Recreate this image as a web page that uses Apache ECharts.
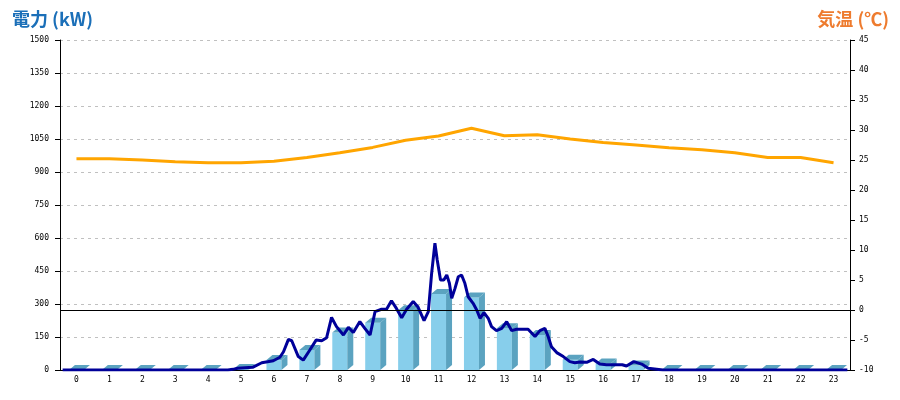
<!DOCTYPE html>
<html>
<head>
<meta charset="utf-8">
<script src="https://cdn.jsdelivr.net/npm/echarts@6/dist/echarts.min.js"></script>
<style>
html,body{margin:0;padding:0;background:#fff;}
#chart{width:900px;height:400px;}
</style>
</head>
<body>
<div id="chart"></div>
<script>
// Hour categories
const hours = ['0','1','2','3','4','5','6','7','8','9','10','11','12','13','14','15','16','17','18','19','20','21','22','23'];
// Hourly power (kW), bars
const barValues = [0,0,0,0,0,5,45,91,170,215,272,345,329,190,159,47,30,20,0,0,0,0,0,0];
// Hourly temperature (°C)
const tempValues = [25.2,25.2,25.0,24.7,24.55,24.55,24.8,25.4,26.2,27.1,28.3,29.0,30.3,29.05,29.2,28.5,27.9,27.5,27.05,26.7,26.2,25.4,25.4,24.55];
// Fine-grained power trace: time (hours) and value (kW)
const powerTime = [0.08,5.10,5.25,5.40,5.85,6.13,6.48,6.68,6.79,6.94,7.04,7.24,7.39,7.59,7.78,7.95,8.10,8.25,8.40,8.61,8.76,8.91,9.11,9.26,9.42,9.57,9.77,9.92,10.07,10.22,10.38,10.53,10.73,10.88,11.06,11.19,11.29,11.39,11.46,11.56,11.66,11.75,11.83,11.90,12.00,12.10,12.20,12.30,12.40,12.55,12.66,12.76,12.88,13.01,13.11,13.26,13.42,13.57,13.72,13.87,14.07,14.22,14.43,14.58,14.73,14.83,14.93,15.09,15.29,15.49,15.64,15.80,16.00,16.20,16.40,16.60,17.08,17.21,17.43,17.67,17.87,18.32,23.92];
const powerValue = [0,0,3,8,12,33,42,58,83,139,133,61,45,91,136,133,147,239,197,159,194,170,220,189,159,265,276,276,315,280,238,276,311,285,224,265,439,576,500,409,409,432,394,326,371,424,432,394,333,303,273,235,261,235,197,179,189,220,179,185,185,185,152,179,189,152,106,79,61,38,33,36,35,48,27,24,24,18,38,27,8,0,0];

const powerData = powerTime.map((t, i) => [t, powerValue[i]]);
const barData = barValues.map((v, i) => [i, v]);

const FRONT = '#87CEEB';
const SIDE = '#5BA3C0';
const labelFont = {fontFamily: 'DejaVu Sans Mono', fontSize: 8, color: '#000'};
const plain = function (v) { return String(v); };

const chart = echarts.init(document.getElementById('chart'));
chart.setOption({
  animation: false,
  backgroundColor: '#fff',
  title: [
    {text: '電力 (kW)', left: 7, top: 5,
     textStyle: {fontFamily: 'Noto Sans CJK JP', fontWeight: 'bold', fontSize: 18, color: '#1B6FB8'}},
    {text: '気温 (℃)', right: 6, top: 5,
     textStyle: {fontFamily: 'Noto Sans CJK JP', fontWeight: 'bold', fontSize: 18, color: '#EE7B2E'}}
  ],
  grid: {left: 60, right: 50, top: 40, bottom: 30},
  xAxis: [
    {type: 'category', data: hours, boundaryGap: true,
     axisLine: {lineStyle: {color: '#000', width: 1}},
     axisTick: {show: false},
     axisLabel: Object.assign({margin: 6}, labelFont),
     splitLine: {show: false}},
    {type: 'value', min: 0, max: 24, show: false}
  ],
  yAxis: [
    {type: 'value', min: 0, max: 1500, interval: 150, position: 'left',
     axisLine: {show: true, lineStyle: {color: '#000', width: 1}},
     axisTick: {show: true, length: 5, lineStyle: {color: '#000'}},
     axisLabel: Object.assign({margin: 11, formatter: plain}, labelFont),
     splitLine: {show: true, lineStyle: {color: '#c0c0c0', type: [3, 4]}}},
    {type: 'value', min: -10, max: 45, interval: 5, position: 'right',
     axisLine: {show: true, lineStyle: {color: '#000', width: 1}},
     axisTick: {show: true, length: 5, lineStyle: {color: '#000'}},
     axisLabel: Object.assign({margin: 9, formatter: plain}, labelFont),
     splitLine: {show: false}}
  ],
  series: [
    {
      type: 'custom', name: 'bars', xAxisIndex: 0, yAxisIndex: 0, z: 2,
      data: barData,
      renderItem: function (params, api) {
        const idx = api.value(0), v = api.value(1);
        const top = api.coord([idx, v]);
        const base = api.coord([idx, 0]);
        const w = 15, d = 6;
        const x0 = top[0] - w / 2;
        return {type: 'group', children: [
          {type: 'rect', shape: {x: x0, y: top[1], width: w, height: base[1] - top[1]}, style: {fill: FRONT}},
          {type: 'polygon', shape: {points: [[x0 + w, top[1]], [x0 + w + d, top[1] - d + 1], [x0 + w + d, base[1] - d + 1], [x0 + w, base[1]]]}, style: {fill: SIDE}},
          {type: 'polygon', shape: {points: [[x0, top[1]], [x0 + d, top[1] - d + 1], [x0 + w + d, top[1] - d + 1], [x0 + w, top[1]]]}, style: {fill: SIDE}}
        ]};
      }
    },
    {
      type: 'line', name: '電力', xAxisIndex: 1, yAxisIndex: 0, z: 4,
      data: powerData, showSymbol: false, symbol: 'none',
      lineStyle: {color: '#000099', width: 3}
    },
    {
      type: 'line', name: '気温', xAxisIndex: 0, yAxisIndex: 1, z: 5,
      data: tempValues, showSymbol: false, symbol: 'none',
      lineStyle: {color: '#FFA500', width: 3},
      markLine: {
        silent: true, symbol: 'none', label: {show: false},
        lineStyle: {color: '#000', width: 1, type: 'solid'},
        data: [{yAxis: 0}]
      }
    }
  ]
});
</script>
</body>
</html>
